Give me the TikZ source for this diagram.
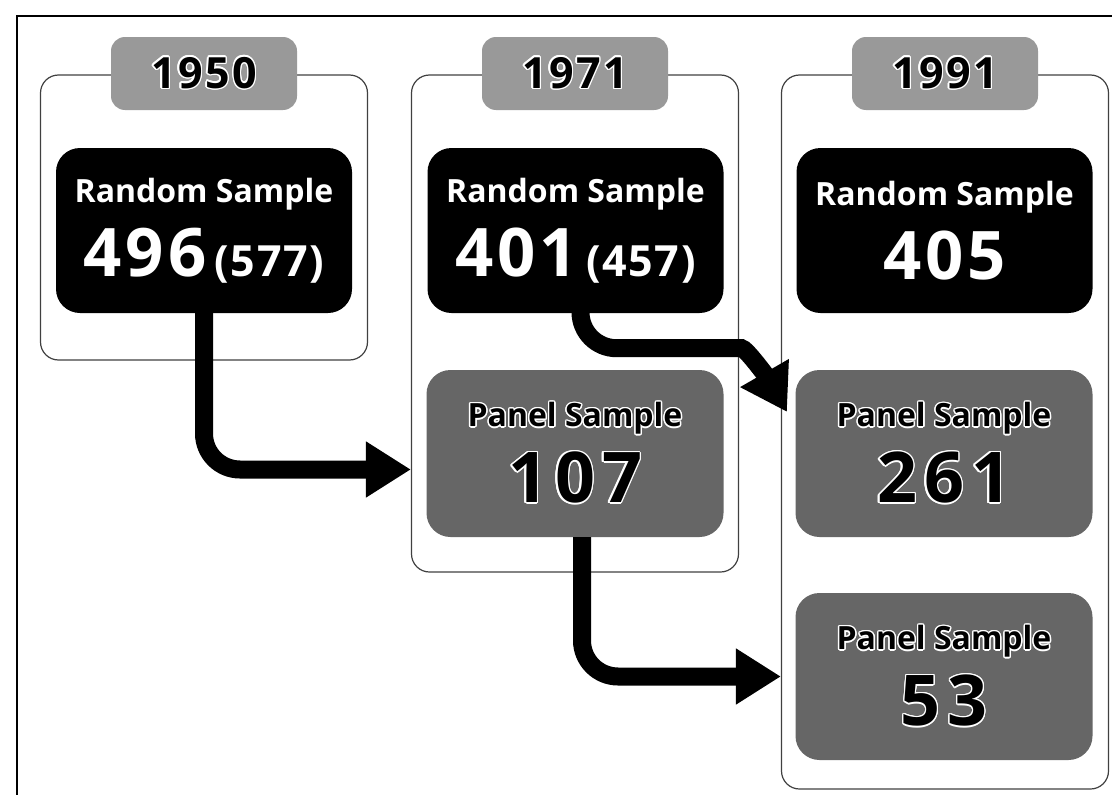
\documentclass[tikz,border=0pt]{standalone}
\usepackage{fontspec}
\setmainfont{Open Sans}
\usepackage{contour}
\contourlength{1.4pt}
\usetikzlibrary{arrows.meta}

\newcommand{\bignum}[1]{{\fontsize{67}{74}\selectfont\addfontfeature{LetterSpace=6}#1}}
\newcommand{\midnum}[1]{{\fontsize{43}{74}\selectfont\addfontfeature{LetterSpace=4}#1}}
\newcommand{\panelnum}[1]{{\fontsize{70}{76}\selectfont\addfontfeature{LetterSpace=10}#1}}
\newcommand{\halo}[1]{\contour{white}{#1}}

\tikzset{
  column/.style={draw=black!75, line width=1.2pt, rounded corners=18pt, minimum width=327pt},
  yeartab/.style={fill=black!40, rounded corners=14pt, minimum width=186pt, minimum height=73pt,
    font=\bfseries\fontsize{43}{43}\selectfont\addfontfeature{LetterSpace=6}},
  randbox/.style={fill=black, text=white, rounded corners=24pt, minimum width=296pt,
    minimum height=165pt, align=center, font=\bfseries\fontsize{32}{74}\selectfont},
  panelbox/.style={fill=black!60, rounded corners=24pt, minimum width=297pt,
    minimum height=167pt, align=center, font=\bfseries\fontsize{32}{76}\selectfont},
  flow/.style={line width=18pt, rounded corners=36pt, -{Triangle[length=45pt,width=53pt]}}
}

\begin{document}
\begin{tikzpicture}[x=1pt,y=-1pt]
\useasboundingbox (0,0) rectangle (1112,795);
\draw[line width=2pt] (17,16) rectangle (1140,820);
% columns with year tabs
\foreach \yr/\x/\h in {1950/204/285,1971/575/497,1991/945/714}{
  \node[column, minimum height=\h pt] (c\yr) at (\x,{75+\h/2}) {};
  \node[yeartab] (y\yr) at (\x,73.5) {\halo{\yr}};
}
% random samples
\node[randbox] (r1950) at (204,230.5) {Random Sample\\\bignum{496}\hspace{8pt}\midnum{(577)}};
\node[randbox] (r1971) at (575.5,230.5) {Random Sample\\\bignum{401}\hspace{8pt}\midnum{(457)}};
\node[randbox] (r1991) at (944.5,230.5) {Random Sample\\\bignum{405}};
% panel samples
\node[panelbox] (p107) at (575,453.5) {\halo{Panel Sample}\\\halo{\panelnum{107}}};
\node[panelbox] (p261) at (944,453.5) {\halo{Panel Sample}\\\halo{\panelnum{261}}};
\node[panelbox] (p53) at (944,676.5) {\halo{Panel Sample}\\\halo{\panelnum{53}}};
% arrows
\coordinate (tip) at (787,412);
\draw[flow] (r1950.south) |- ([yshift=-16pt]p107.west -| c1971.west);
\draw[flow] ([xshift=5pt]r1971.south) |- ++(125,35) to[out=0,in=120] (tip);
\draw[flow] ([xshift=7pt]p107.south) |- (p53.west -| c1991.west);
\end{tikzpicture}
\end{document}
